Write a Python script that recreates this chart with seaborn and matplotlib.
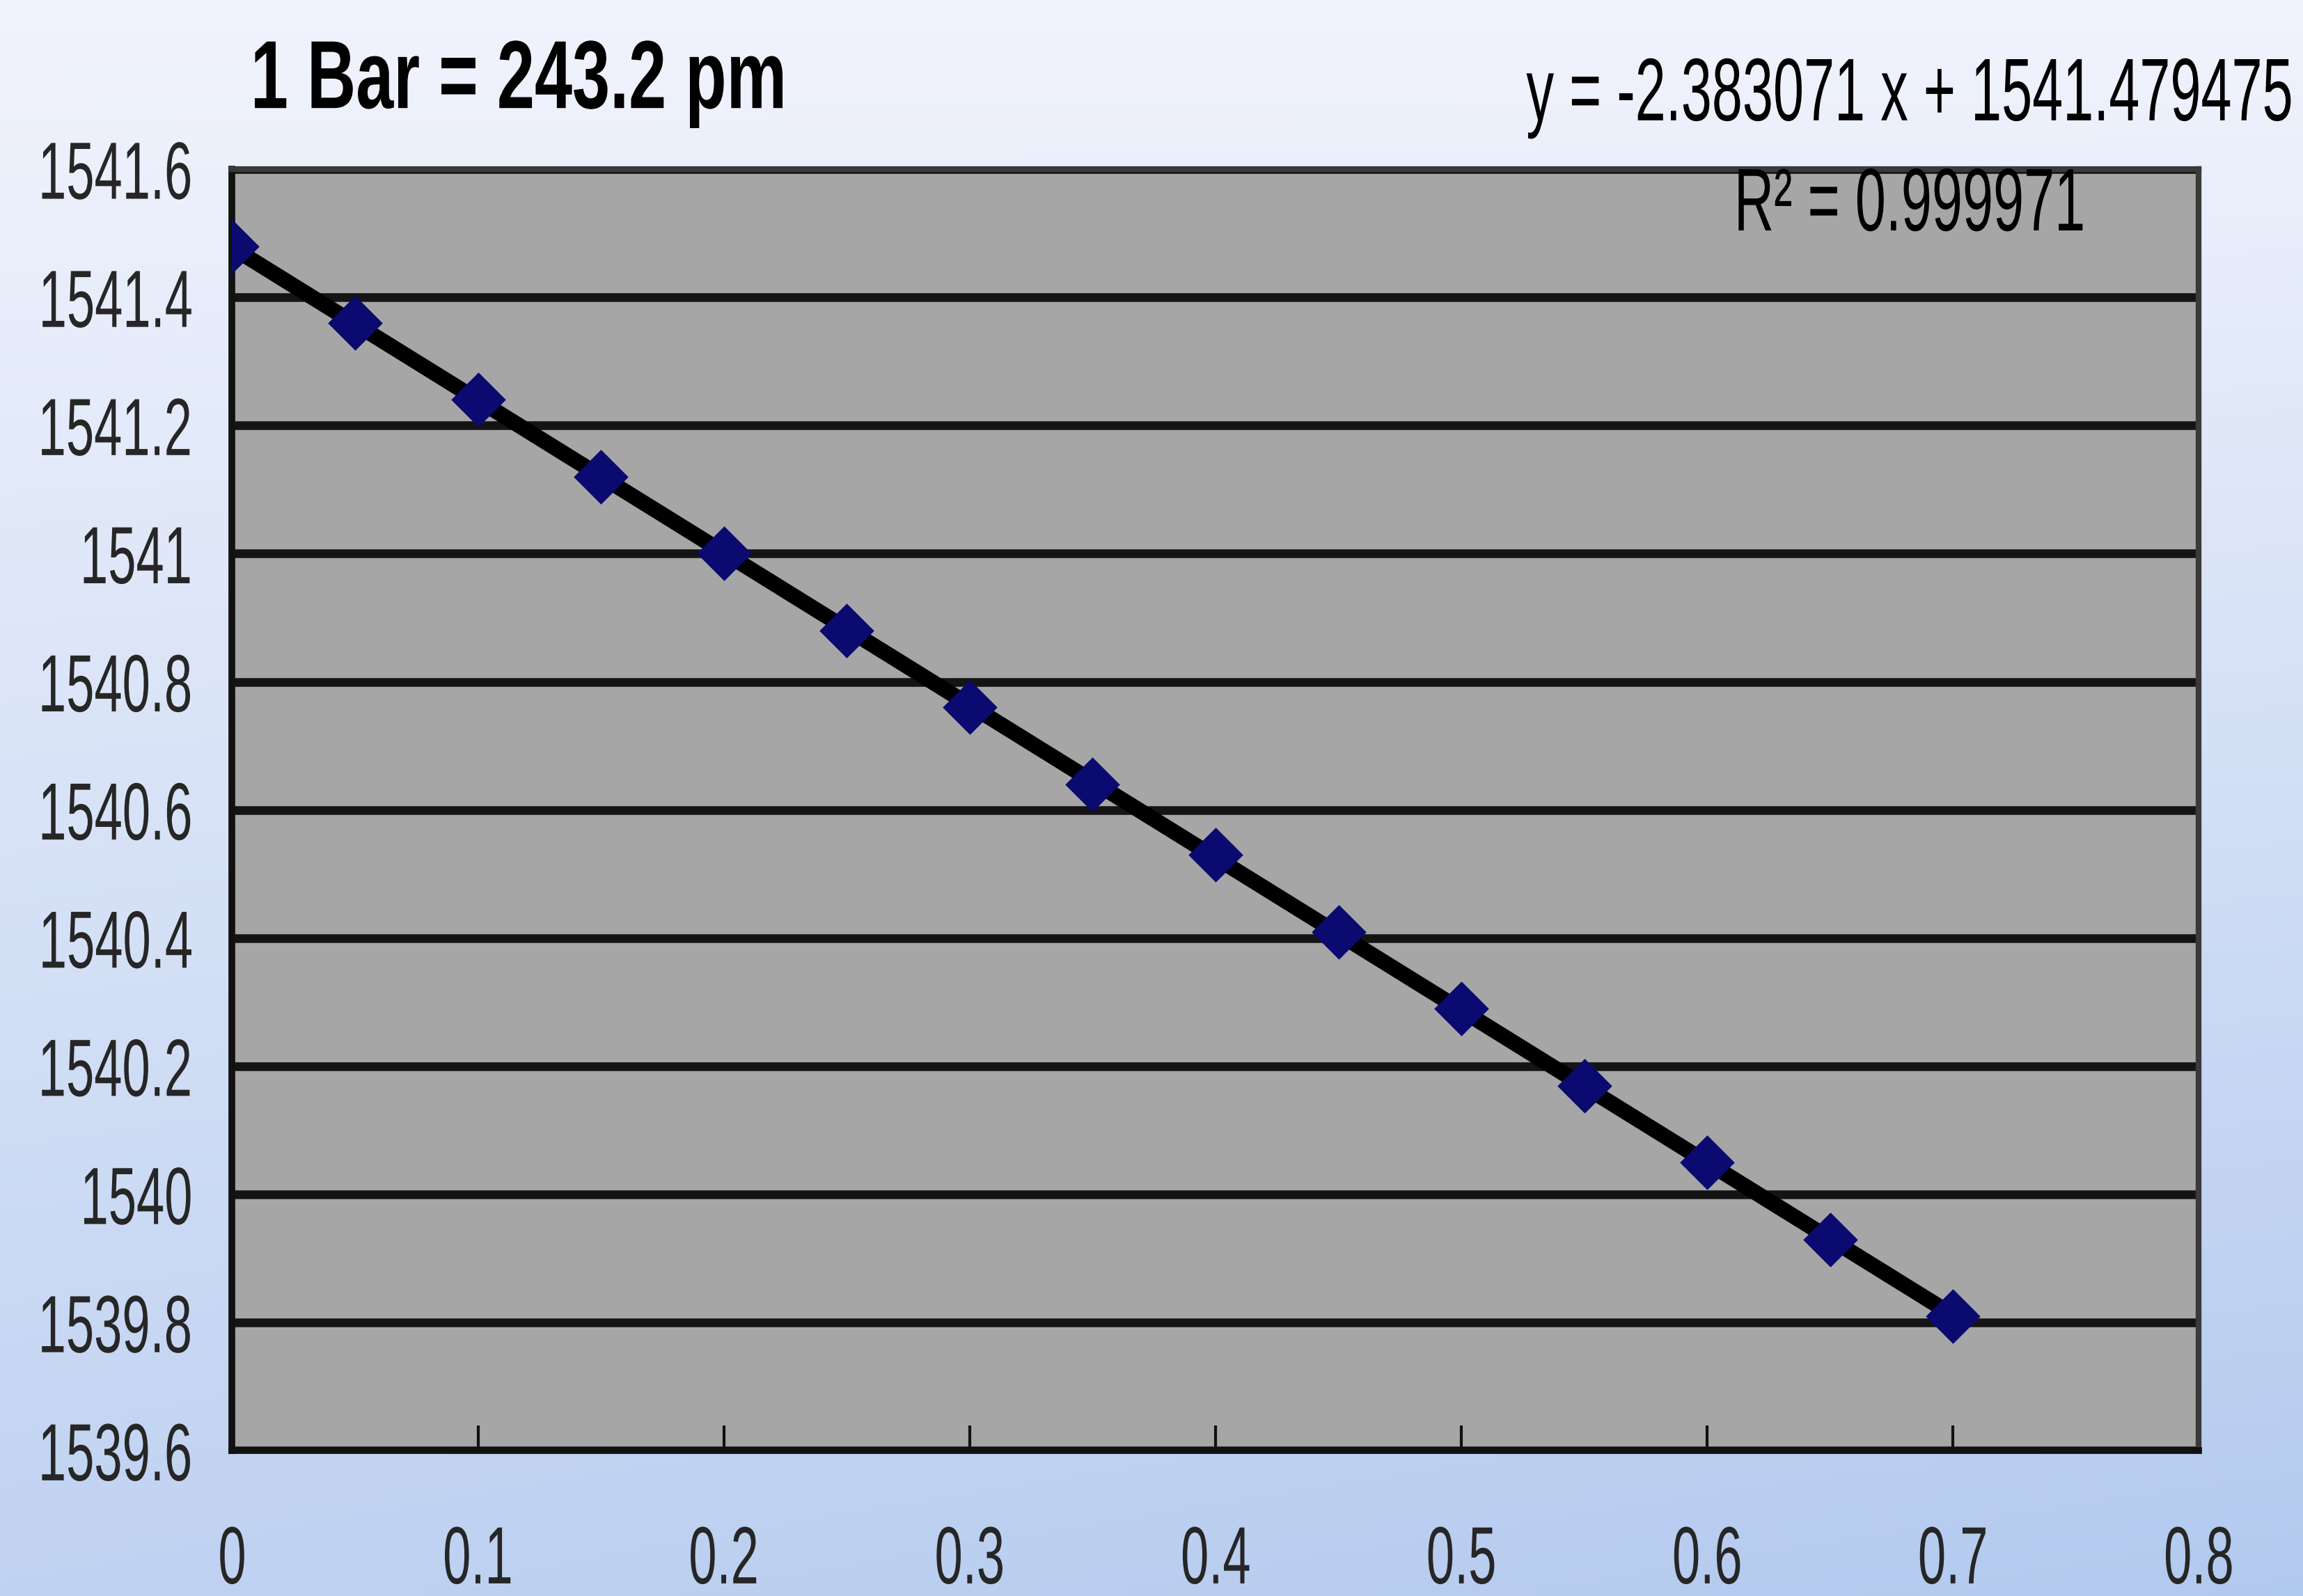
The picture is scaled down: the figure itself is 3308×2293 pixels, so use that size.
import numpy as np
import pandas as pd
import matplotlib
matplotlib.use('Agg')
import matplotlib.pyplot as plt
from matplotlib.patheffects import AbstractPathEffect
from matplotlib.transforms import Affine2D
import seaborn as sns

# Wavelength shift vs pressure (1 Bar = 243.2 pm)
pressure = [0.0, 0.05, 0.1, 0.15, 0.2, 0.25, 0.3, 0.35, 0.4, 0.45, 0.5, 0.55, 0.6, 0.65, 0.7]
wavelength = [1541.48, 1541.36, 1541.24, 1541.12, 1541.00, 1540.88, 1540.76, 1540.64,
              1540.53, 1540.41, 1540.29, 1540.17, 1540.05, 1539.93, 1539.81]
x_ticks = [0, 0.1, 0.2, 0.3, 0.4, 0.5, 0.6, 0.7, 0.8]
x_tick_labels = ['0', '0.1', '0.2', '0.3', '0.4', '0.5', '0.6', '0.7', '0.8']
y_ticks = [1539.6, 1539.8, 1540.0, 1540.2, 1540.4, 1540.6, 1540.8, 1541.0, 1541.2, 1541.4, 1541.6]
y_tick_labels = ['1539.6', '1539.8', '1540', '1540.2', '1540.4', '1540.6', '1540.8',
                 '1541', '1541.2', '1541.4', '1541.6']

df = pd.DataFrame({'pressure': pressure, 'wavelength': wavelength})


class Squeeze(AbstractPathEffect):
    """Draw text narrower (the original uses a squashed Arial look)."""
    def __init__(self, sx=0.62, anchor='center'):
        super().__init__()
        self.sx = sx
        self.anchor = anchor

    def draw_path(self, renderer, gc, tpath, affine, rgbFace=None):
        ext = tpath.get_extents()
        if self.anchor == 'left':
            x0 = ext.x0
        elif self.anchor == 'right':
            x0 = ext.x1
        else:
            x0 = 0.5 * (ext.x0 + ext.x1)
        t = Affine2D().translate(-x0, 0).scale(self.sx, 1).translate(x0, 0)
        renderer.draw_path(gc, tpath, t + affine, rgbFace)


sns.set_style('white')
plt.rcParams['font.family'] = ['Liberation Sans', 'DejaVu Sans']

fig = plt.figure(figsize=(16.54, 11.465), dpi=200)

# gradient background (light at top, bluer at bottom-right)
bg = fig.add_axes([0, 0, 1, 1], zorder=-10)
yy, xx = np.mgrid[0:1:200j, 0:1:200j]
top = np.array([0.945, 0.955, 0.99])
bottom = np.array([0.70, 0.79, 0.935])
t = np.clip(0.78 * yy + 0.22 * xx * yy, 0, 1)[..., None]
img = top * (1 - t) + bottom * t
bg.imshow(img, aspect='auto', extent=[0, 1, 0, 1], origin='upper')
bg.axis('off')

ax = fig.add_axes([0.1008, 0.091, 0.854, 0.803])
ax.set_facecolor('#a6a6a6')

sns.regplot(data=df, x='pressure', y='wavelength', ax=ax, ci=None, marker='D',
            scatter_kws={'s': 400, 'color': '#0a0a70', 'alpha': 1, 'zorder': 4, 'linewidths': 0},
            line_kws={'color': 'black', 'linewidth': 8, 'zorder': 3})

ax.set_xlim(0, 0.8)
ax.set_ylim(1539.6, 1541.6)
ax.set_xticks(x_ticks)
ax.set_xticklabels(x_tick_labels)
ax.set_yticks(y_ticks)
ax.set_yticklabels(y_tick_labels)
ax.set_xlabel('')
ax.set_ylabel('')

ax.yaxis.grid(True, color='#141414', linewidth=4.5)
ax.xaxis.grid(False)
ax.set_axisbelow(True)

for side in ['left', 'bottom']:
    ax.spines[side].set_color('#111111')
    ax.spines[side].set_linewidth(3.5)
for side in ['top', 'right']:
    ax.spines[side].set_color('#3a3a3a')
    ax.spines[side].set_linewidth(3)

ax.tick_params(axis='x', direction='in', length=13, width=1.5, color='#111111',
               labelsize=42, pad=38, bottom=True)
ax.tick_params(axis='y', direction='out', length=0, labelsize=42, pad=20)

for lab in ax.get_xticklabels():
    lab.set_path_effects([Squeeze(0.62, 'center')])
for lab in ax.get_yticklabels():
    lab.set_path_effects([Squeeze(0.62, 'right')])

fig.text(0.108, 0.948, '1 Bar = 243.2 pm', fontsize=50, fontweight='bold',
         ha='left', va='center', color='black',
         path_effects=[Squeeze(0.70, 'left')])
fig.text(0.996, 0.939, 'y = -2.383071 x + 1541.479475', fontsize=46,
         ha='right', va='center', color='black',
         path_effects=[Squeeze(0.62, 'right')])
fig.text(0.906, 0.870, 'R\u00b2 = 0.999971', fontsize=46,
         ha='right', va='center', color='black',
         path_effects=[Squeeze(0.62, 'right')])

fig.savefig('out.png', dpi=200)
